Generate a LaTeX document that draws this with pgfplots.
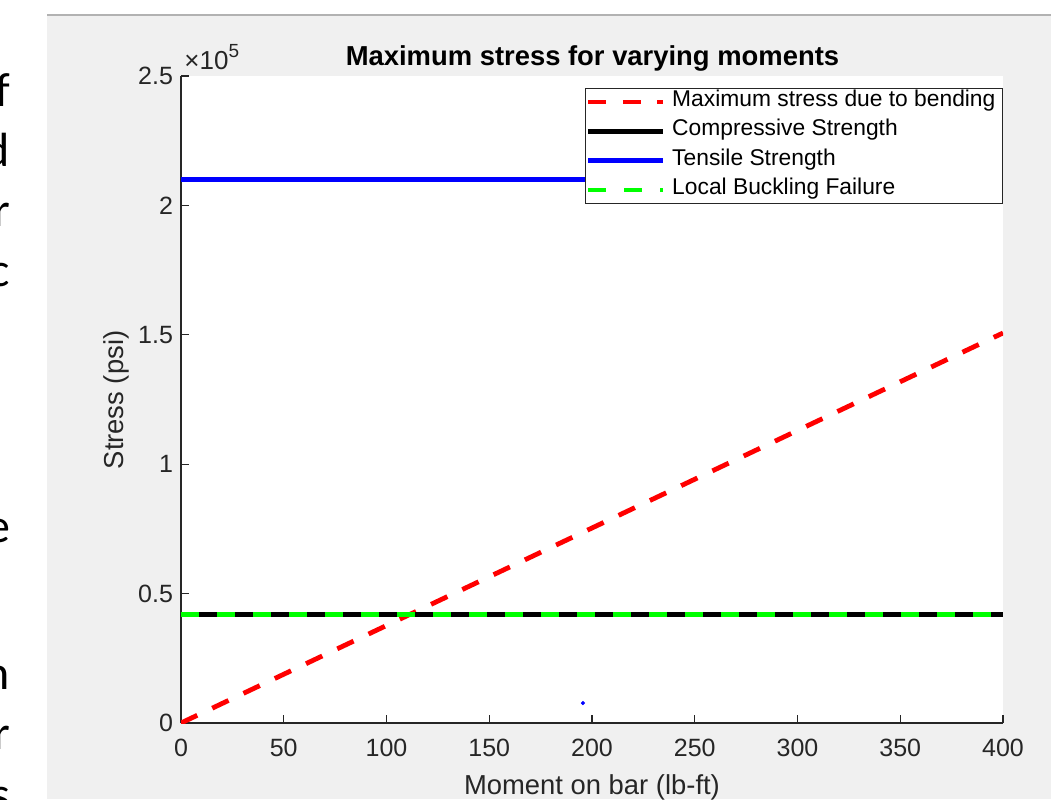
\documentclass[border=0pt]{standalone}
\usepackage{fontspec}
\setmainfont{Liberation Sans}
\newfontfamily\calibri{Carlito}
\usepackage{pgfplots}
\pgfplotsset{compat=1.18}
\definecolor{figbg}{HTML}{F0F0F0}
\definecolor{axgray}{HTML}{262626}
\definecolor{mred}{HTML}{FF0000}
\definecolor{mblue}{HTML}{0000FF}
\definecolor{mgreen}{HTML}{00FF00}

\begin{document}
\begin{tikzpicture}[x=0.5pt,y=0.5pt]
\useasboundingbox (0,0) rectangle (1051,799);
\clip (0,0) rectangle (1051,799);
\fill[white] (0,0) rectangle (1051,799);
\fill[figbg] (47,0) rectangle (1051,784);
\draw[black!30, line width=0.6pt] (47,784) -- (1051,784);
% ends of text lines from the surrounding document
\foreach \ch/\yy in {f/107, d/167, r/227, c/287, e/543, n/690, r/750, s/810}
  \node[anchor=base east, inner sep=0pt, font=\calibri\fontsize{24}{28}\selectfont] at (10.5, 799-\yy) {\ch};

\begin{axis}[
    at={(90.5pt,38pt)}, anchor=south west,
    scale only axis,
    width=411pt, height=323.5pt,
    xmin=0, xmax=400,
    ymin=0, ymax=250000,
    axis x line*=bottom, axis y line*=left,
    axis line style={axgray, line width=0.6pt},
    tick style={axgray, line width=0.6pt},
    major tick length=4pt, tick align=inside,
    xtick={0,50,...,400},
    ytick={0,50000,100000,150000,200000,250000},
    yticklabels={0,0.5,1,1.5,2,2.5},
    scaled y ticks=false,
    ticklabel style={font=\fontsize{12.5}{14}\selectfont, text=axgray},
    xticklabel style={yshift=-4.5pt},
    yticklabel style={xshift=-0.5pt},
    /pgf/number format/assume math mode=true,
    axis background/.style={fill=white},
    legend style={at={(1,1)}, anchor=north east, xshift=-0.25pt, yshift=-6pt,
        draw=axgray, line width=0.5pt, fill=white,
        font=\fontsize{11.4}{13}\selectfont,
        inner xsep=0pt, inner ysep=0pt, column sep=0pt, row sep=1.15pt,
        nodes={inner xsep=3.3pt, inner ysep=0.6pt, text height=8.4pt, text depth=3.9pt}},
    legend cell align=left,
    legend image code/.code={%
        \path[draw=none, fill=none] (0pt,-4.5pt) -- (37.5pt,-4.5pt);
        \draw[#1] (0pt,0pt) -- (37.5pt,0pt);},
]
\addplot[mred, line width=2.4pt, dash pattern=on 9pt off 8.3pt]
    coordinates {(0,0) (400,150700)};
\addlegendentry{Maximum stress due to bending}
\addplot[black, line width=2.4pt]
    coordinates {(0,42000) (400,42000)};
\addlegendentry{Compressive Strength}
\addplot[mblue, line width=2.4pt]
    coordinates {(0,210000) (400,210000)};
\addlegendentry{Tensile Strength}
\addplot[mgreen, line width=2.4pt, dash pattern=on 9pt off 9pt]
    coordinates {(0,42000) (400,42000)};
\addlegendentry{Local Buckling Failure}
\addplot[only marks, mark=*, mark size=0.8pt, mblue, forget plot]
    coordinates {(195.6,7700)};
\end{axis}

% title, axis labels and the scale factor
\node[anchor=base, inner sep=0pt, font=\bfseries\fontsize{13.7}{16}\selectfont]
    at (592.5, 799-66) {Maximum stress for varying moments};
\node[anchor=base, inner sep=0pt, font=\fontsize{13.7}{16}\selectfont, text=axgray]
    at (592, 799-795) {Moment on bar (lb-ft)};
\node[rotate=90, anchor=base, inner sep=0pt, font=\fontsize{13.7}{16}\selectfont, text=axgray]
    at (123, 799-400) {Stress (psi)};
\node[anchor=base west, inner sep=0pt, text=axgray]
    at (184, 799-70) {\fontsize{13}{15}\selectfont ×10\raisebox{6pt}{\fontsize{9.5}{11}\selectfont 5}};
\end{tikzpicture}
\end{document}
